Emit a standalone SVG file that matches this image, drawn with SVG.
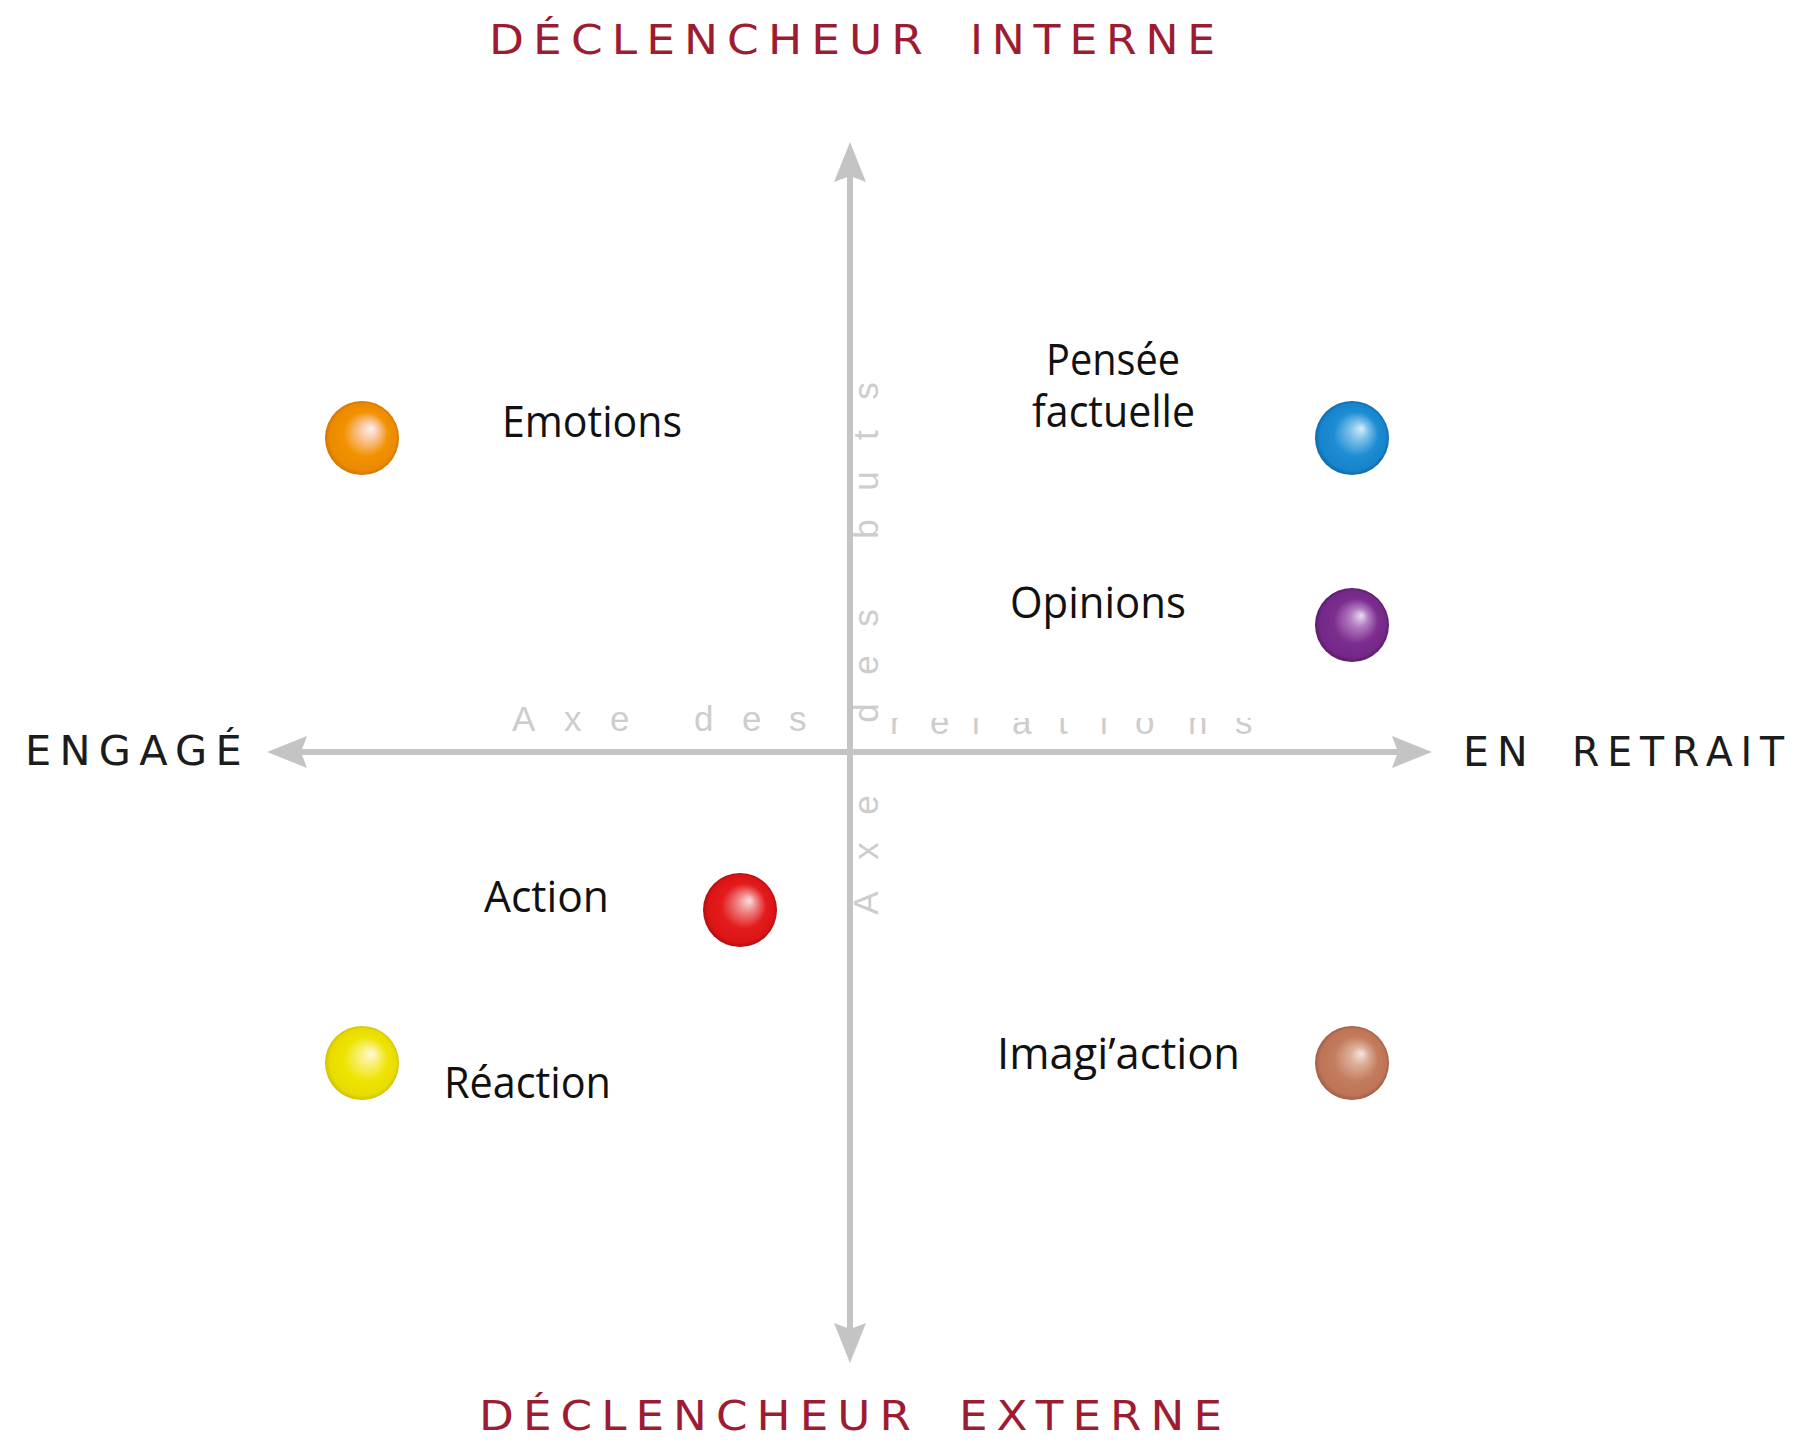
<svg xmlns="http://www.w3.org/2000/svg" width="1804" height="1445" viewBox="0 0 1804 1445">
<style>
.title{font-family:"DejaVu Sans","Liberation Sans",sans-serif;font-size:40px;letter-spacing:8px;fill:#9e1c32}
.side{font-family:"DejaVu Sans","Liberation Sans",sans-serif;font-size:40px;letter-spacing:8px;fill:#1c1c1c}
.axis{fill:none;stroke:#c4c4c4;stroke-width:6}
.axtxt{font-family:"Liberation Sans",Arial,sans-serif;font-size:35px;fill:#cdcdcd}
.lbl{font-family:"Open Sans","Noto Sans",sans-serif;font-size:44px;fill:#111}
</style>
<defs>
<marker id="ah" viewBox="0 0 40 32" markerWidth="40" markerHeight="32" refX="20" refY="16" orient="auto-start-reverse" markerUnits="userSpaceOnUse">
<path d="M0,0 L40,16 L0,32 L6,16 z" fill="#c4c4c4"/>
</marker>
<radialGradient id="gOrange" cx="0.5" cy="0.5" r="0.5" fx="0.63" fy="0.37"><stop offset="0" stop-color="#fff1ec"/><stop offset="0.25" stop-color="#f9c7a0"/><stop offset="0.6" stop-color="#f29200"/><stop offset="0.9" stop-color="#ec8a00"/><stop offset="1" stop-color="#d27600"/></radialGradient>
<radialGradient id="gBlue" cx="0.5" cy="0.5" r="0.5" fx="0.63" fy="0.37"><stop offset="0" stop-color="#d9eefb"/><stop offset="0.25" stop-color="#7cc0ea"/><stop offset="0.6" stop-color="#1d8dd4"/><stop offset="0.9" stop-color="#1784cb"/><stop offset="1" stop-color="#0f6aa8"/></radialGradient>
<radialGradient id="gPurple" cx="0.5" cy="0.5" r="0.5" fx="0.63" fy="0.37"><stop offset="0" stop-color="#eedbf2"/><stop offset="0.25" stop-color="#b27cc0"/><stop offset="0.6" stop-color="#7d2e90"/><stop offset="0.9" stop-color="#742887"/><stop offset="1" stop-color="#5a1c6a"/></radialGradient>
<radialGradient id="gRed" cx="0.5" cy="0.5" r="0.5" fx="0.63" fy="0.37"><stop offset="0" stop-color="#fbe0e0"/><stop offset="0.25" stop-color="#f08585"/><stop offset="0.6" stop-color="#e41c1e"/><stop offset="0.9" stop-color="#dd1416"/><stop offset="1" stop-color="#b30f10"/></radialGradient>
<radialGradient id="gYellow" cx="0.5" cy="0.5" r="0.5" fx="0.63" fy="0.37"><stop offset="0" stop-color="#fffbd8"/><stop offset="0.25" stop-color="#f8f07a"/><stop offset="0.6" stop-color="#eee400"/><stop offset="0.9" stop-color="#e8dc00"/><stop offset="1" stop-color="#cfc200"/></radialGradient>
<radialGradient id="gBrown" cx="0.5" cy="0.5" r="0.5" fx="0.63" fy="0.37"><stop offset="0" stop-color="#f7e6de"/><stop offset="0.25" stop-color="#dcad98"/><stop offset="0.6" stop-color="#c47c5e"/><stop offset="0.9" stop-color="#bd7457"/><stop offset="1" stop-color="#a05f46"/></radialGradient>
<clipPath id="relClip"><rect x="882" y="718" width="400" height="30"/></clipPath>
</defs>
<rect width="1804" height="1445" fill="#fff"/>

<g id="titles">
<text class="title" x="489" y="54" textLength="443" lengthAdjust="spacingAndGlyphs">DÉCLENCHEUR</text>
<text class="title" x="970" y="54" textLength="254" lengthAdjust="spacingAndGlyphs">INTERNE</text>
<text class="title" x="479" y="1430" textLength="441" lengthAdjust="spacingAndGlyphs">DÉCLENCHEUR</text>
<text class="title" x="959" y="1430" textLength="272" lengthAdjust="spacingAndGlyphs">EXTERNE</text>
<text class="side" x="25" y="765" textLength="225" lengthAdjust="spacingAndGlyphs">ENGAGÉ</text>
<text class="side" x="1463" y="766" textLength="73" lengthAdjust="spacingAndGlyphs">EN</text>
<text class="side" x="1572" y="766" textLength="220" lengthAdjust="spacingAndGlyphs">RETRAIT</text>
</g>

<g id="axis-labels">
<text class="axtxt" x="512 564 610" y="731">Axe</text>
<text class="axtxt" x="694 742 789" y="731">des</text>
<text class="axtxt" clip-path="url(#relClip)" x="890 930 972 1012 1058 1100 1135 1188 1235" y="734">relations</text>
<g transform="translate(878,0) rotate(-90)">
<text class="axtxt" x="-914.7 -859.8 -814.8" y="0">Axe</text>
<text class="axtxt" x="-722.8 -674.8 -626.8" y="0">des</text>
<text class="axtxt" x="-538.8 -490.8 -439.9 -399.8" y="0">buts</text>
</g>
</g>

<g id="connectors">
<line class="axis" x1="850" y1="1343" x2="850" y2="162" marker-start="url(#ah)" marker-end="url(#ah)"/>
<line class="axis" x1="287" y1="752" x2="1412" y2="752" marker-start="url(#ah)" marker-end="url(#ah)"/>
</g>

<g id="node-emotions">
<circle cx="362" cy="438" r="37" fill="url(#gOrange)"/>
<text class="lbl" x="502" y="437" textLength="180" lengthAdjust="spacingAndGlyphs">Emotions</text>
</g>
<g id="node-pensee">
<circle cx="1352" cy="438" r="37" fill="url(#gBlue)"/>
<text class="lbl" x="1046" y="375" textLength="134" lengthAdjust="spacingAndGlyphs">Pensée</text>
<text class="lbl" x="1032" y="427" textLength="163" lengthAdjust="spacingAndGlyphs">factuelle</text>
</g>
<g id="node-opinions">
<circle cx="1352" cy="625" r="37" fill="url(#gPurple)"/>
<text class="lbl" x="1010" y="618" textLength="176" lengthAdjust="spacingAndGlyphs">Opinions</text>
</g>
<g id="node-action">
<circle cx="740" cy="910" r="37" fill="url(#gRed)"/>
<text class="lbl" x="484" y="912" textLength="125" lengthAdjust="spacingAndGlyphs">Action</text>
</g>
<g id="node-reaction">
<circle cx="362" cy="1063" r="37" fill="url(#gYellow)"/>
<text class="lbl" x="444" y="1098" textLength="167" lengthAdjust="spacingAndGlyphs">Réaction</text>
</g>
<g id="node-imagiaction">
<circle cx="1352" cy="1063" r="37" fill="url(#gBrown)"/>
<text class="lbl" x="997" y="1069" textLength="243" lengthAdjust="spacingAndGlyphs">Imagi’action</text>
</g>
</svg>
